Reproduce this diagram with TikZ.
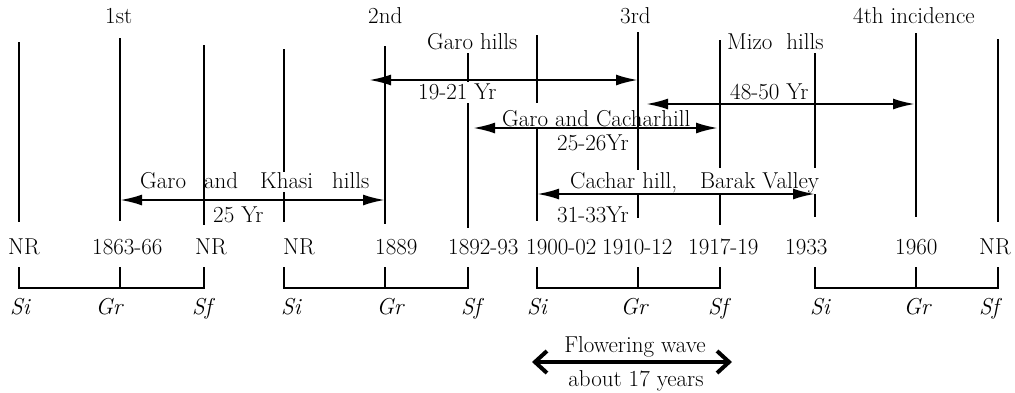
\documentclass[tikz,border=0pt]{standalone}
\usepackage{fontspec}
\usetikzlibrary{arrows.meta}
\begin{document}
\begin{tikzpicture}[x=1pt,y=-1pt,
  vline/.style={line width=2.3pt},
  bracket/.style={line width=2.3pt},
  dim/.style={line width=2.3pt,{Latex[length=22pt,width=11pt]}-{Latex[length=22pt,width=11pt]}},
  wave/.style={line width=4.8pt,{Straight Barb[length=12pt,width=22pt,line width=4pt]}-{Straight Barb[length=12pt,width=22pt,line width=4pt]}},
  lbl/.style={font=\fontsize{23}{27}\selectfont,inner sep=0pt,anchor=base west},
  clbl/.style={font=\fontsize{23}{27}\selectfont,inner sep=0pt,anchor=base},
  phase/.style={font=\fontsize{23}{27}\selectfont\itshape,inner sep=0pt,anchor=base}]
\useasboundingbox (0,0) rectangle (1015,392);

% ---- top incidence labels
\node[lbl] (t1) at (105,23) {1st};
\node[lbl] (t2) at (368,23) {2nd};
\node[lbl] (t3) at (620,23) {3rd};
\node[lbl] (t4) at (853,23) {4th incidence};
\node[lbl] (garohills) at (427,49) {Garo hills};
\node[lbl] (mizo) at (727,49) {Mizo\hspace{14pt}hills};
\node[lbl] (y1921) at (418,99) {19-21 Yr};
\node[lbl] (y4850) at (730,99) {48-50 Yr};
\node[lbl] (garocach) at (502,126) {Garo and Cacharhill};
\node[lbl] (y2526) at (557,150) {25-26Yr};
\node[lbl] (garokhasi) at (140,188) {Garo\hspace{18pt}and\hspace{22pt}Khasi\hspace{19pt}hills};
\node[lbl] (cachar) at (570,188) {Cachar hill,\hspace{23pt}Barak Valley};
\node[lbl] (y25) at (213,222) {25 Yr};
\node[lbl] (y3133) at (557,222) {31-33Yr};

% ---- year row
\node[lbl] (d1) at (8,254) {NR};
\node[lbl] (d2) at (92,254) {1863-66};
\node[lbl] (d3) at (195,254) {NR};
\node[lbl] (d4) at (283,254) {NR};
\node[lbl] (d5) at (375,254) {1889};
\node[lbl] (d6) at (448,254) {1892-93};
\node[lbl] (d7) at (526,254) {1900-02};
\node[lbl] (d8) at (602,254) {1910-12};
\node[lbl] (d9) at (688,254) {1917-19};
\node[lbl] (d10) at (785,254) {1933};
\node[lbl] (d11) at (895,254) {1960};
\node[lbl] (d12) at (979,254) {NR};

% ---- vertical lines
\coordinate (a1) at (19,42);   \coordinate (b1) at (19,222);
\coordinate (a2) at (120,38);  \coordinate (b2) at (120,221);
\coordinate (a3) at (204,45);  \coordinate (b3) at (204,225);
\coordinate (a4) at (284,49);  \coordinate (m4) at (284,172); \coordinate (n4) at (284,192); \coordinate (b4) at (284,222);
\coordinate (a5) at (385,46);  \coordinate (b5) at (385,224);
\coordinate (a6) at (468,53);  \coordinate (m6) at (468,82);  \coordinate (n6) at (468,103); \coordinate (b6) at (468,228);
\coordinate (a7) at (537,35);  \coordinate (m7) at (537,103); \coordinate (n7) at (537,128); \coordinate (b7) at (537,221);
\coordinate (a8) at (638,32);  \coordinate (m8) at (638,170); \coordinate (n8) at (638,194); \coordinate (b8) at (638,218);
\coordinate (a9) at (720,40);  \coordinate (m9) at (720,168); \coordinate (n9) at (720,194); \coordinate (b9) at (720,225);
\coordinate (a10) at (815,53); \coordinate (m10) at (815,168); \coordinate (n10) at (815,194); \coordinate (b10) at (815,217);
\coordinate (a11) at (916,33); \coordinate (b11) at (916,217);
\coordinate (a12) at (998,39); \coordinate (b12) at (998,222);

\draw[vline] (a1) -- (b1);
\draw[vline] (a2) -- (b2);
\draw[vline] (a3) -- (b3);
\draw[vline] (a4) -- (m4) (n4) -- (b4);
\draw[vline] (a5) -- (b5);
\draw[vline] (a6) -- (m6) (n6) -- (b6);
\draw[vline] (a7) -- (m7) (n7) -- (b7);
\draw[vline] (a8) -- (m8) (n8) -- (b8);
\draw[vline] (a9) -- (m9) (n9) -- (b9);
\draw[vline] (a10) -- (m10) (n10) -- (b10);
\draw[vline] (a11) -- (b11);
\draw[vline] (a12) -- (b12);

% ---- interval arrows
\coordinate (pA1) at (120,200); \coordinate (pA2) at (385,200);
\coordinate (pB1) at (369,80);  \coordinate (pB2) at (638,80);
\coordinate (pC1) at (646,104); \coordinate (pC2) at (915,104);
\coordinate (pD1) at (473,128); \coordinate (pD2) at (718,128);
\coordinate (pE1) at (537,194); \coordinate (pE2) at (815,194);
\draw[dim] (pA1) -- (pA2);
\draw[dim] (pB1) -- (pB2);
\draw[dim] (pC1) -- (pC2);
\draw[dim] (pD1) -- (pD2);
\draw[dim] (pE1) -- (pE2);

% ---- phase brackets
\foreach \l/\m/\r [count=\i] in {19/120/204, 284/385/468, 537/638/720, 815/916/998}{
  \coordinate (sl\i) at (\l,267); \coordinate (sm\i) at (\m,267); \coordinate (sr\i) at (\r,267);
  \draw[bracket] (sl\i) -- ++(0,21) -| (sr\i);
  \draw[bracket] (sm\i) -- ++(0,21);
}
\node[phase] (si1) at (20,314) {Si};
\node[phase] (gr1) at (109,314) {Gr};
\node[phase] (sf1) at (202,314) {Sf};
\node[phase] (si2) at (291,314) {Si};
\node[phase] (gr2) at (390,314) {Gr};
\node[phase] (sf2) at (471,314) {Sf};
\node[phase] (si3) at (537,314) {Si};
\node[phase] (gr3) at (634,314) {Gr};
\node[phase] (sf3) at (718,314) {Sf};
\node[phase] (si4) at (820,314) {Si};
\node[phase] (gr4) at (917,314) {Gr};
\node[phase] (sf4) at (989,314) {Sf};

% ---- flowering wave
\node[clbl] (fw) at (635,352) {Flowering wave};
\node[clbl] (ab) at (636,386) {about 17 years};
\coordinate (w1) at (532,362); \coordinate (w2) at (732,362);
\draw[wave] (w1) -- (w2);
\end{tikzpicture}
\end{document}
